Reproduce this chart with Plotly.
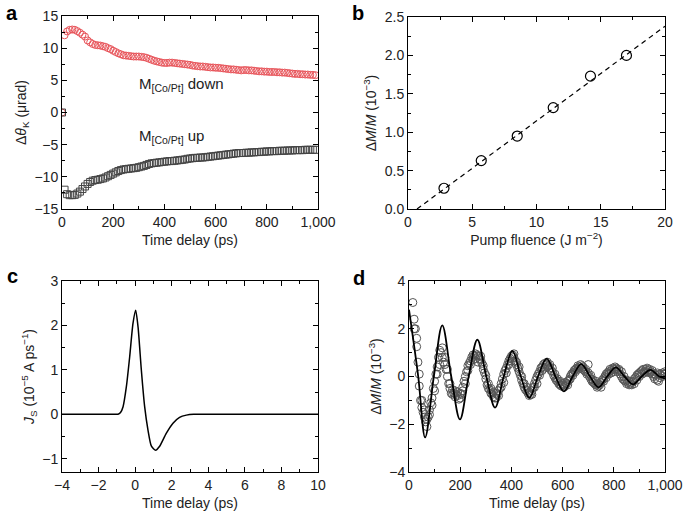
import plotly.graph_objects as go

# ---------------- Panel a data ----------------
a_time = [0] + [10 * i for i in range(1, 100)]
a_down = [0.0,
    12.0, 12.6, 12.85, 12.9, 12.85, 12.65, 12.4, 12.1, 11.8, 11.2,
    10.9, 10.65, 10.5, 10.45, 10.4, 10.3, 10.2, 10.0, 9.85, 9.6,
    9.4, 9.2, 9.05, 8.9, 8.85, 8.8, 8.75, 8.7, 8.7, 8.7,
    8.65, 8.6, 8.5, 8.35, 8.2, 8.05, 7.95, 7.85, 7.75, 7.7,
    7.7, 7.75, 7.75, 7.7, 7.65, 7.6, 7.55, 7.5, 7.45, 7.4,
    7.3, 7.25, 7.2, 7.15, 7.15, 7.1, 7.05, 7.0, 7.0, 6.95,
    6.95, 6.9, 6.85, 6.8, 6.75, 6.7, 6.7, 6.65, 6.6, 6.55,
    6.6, 6.6, 6.55, 6.55, 6.5, 6.45, 6.4, 6.4, 6.35, 6.35,
    6.3, 6.3, 6.3, 6.25, 6.25, 6.2, 6.2, 6.15, 6.1, 6.05,
    6.0, 6.0, 5.95, 5.95, 5.9, 5.9, 5.85, 5.85, 5.8]
a_up = [0.0,
    -12.0, -12.7, -12.85, -12.85, -12.8, -12.6, -12.3, -11.9, -11.5, -11.1,
    -10.8, -10.6, -10.5, -10.45, -10.35, -10.25, -10.1, -9.9, -9.7, -9.5,
    -9.3, -9.1, -8.95, -8.85, -8.8, -8.75, -8.7, -8.65, -8.6, -8.5,
    -8.4, -8.3, -8.15, -8.0, -7.9, -7.85, -7.8, -7.75, -7.7, -7.65,
    -7.6, -7.55, -7.55, -7.5, -7.45, -7.4, -7.35, -7.3, -7.2, -7.15,
    -7.1, -7.05, -7.05, -7.0, -7.0, -6.95, -6.9, -6.85, -6.8, -6.75,
    -6.7, -6.65, -6.6, -6.55, -6.5, -6.45, -6.4, -6.35, -6.3, -6.3,
    -6.3, -6.25, -6.25, -6.2, -6.2, -6.15, -6.15, -6.1, -6.1, -6.05,
    -6.05, -6.0, -6.0, -6.0, -5.95, -5.95, -5.95, -5.9, -5.9, -5.9,
    -5.85, -5.85, -5.85, -5.85, -5.8, -5.8, -5.8, -5.8, -5.8]

# ---------------- Panel b data ----------------
b_fluence = [2.8, 5.7, 8.5, 11.3, 14.2, 17.0]
b_dm = [0.27, 0.63, 0.95, 1.32, 1.73, 2.0]
b_fit_x = [0.7, 20.0]
b_fit_y = [0.0, 2.38]

# ---------------- Panel c data ----------------
c_time = [-4, -1.2, -0.94, -0.8, -0.66, -0.48, -0.3, -0.12, 0.03, 0.16, 0.34,
          0.52, 0.7, 0.89, 1.12, 1.34, 1.7, 2.07, 2.43, 2.8, 3.2, 4, 10]
c_js = [0, 0, 0, 0.04, 0.17, 0.62, 1.29, 2.04, 2.34, 1.96, 0.99,
        0.17, -0.35, -0.72, -0.81, -0.72, -0.43, -0.2, -0.07, -0.02, 0, 0, 0]

# ---------------- Panel d data ----------------
d_scan1 = [3.1, 2.4, 2.0, 1.25, 0.6, -0.4, -1.0, -1.3, -1.5, -1.7,
    -1.9, -2.1, -1.7, -1.4, -1.1, -0.9, -0.5, -0.2, 0.1, 0.4,
    0.8, 1.1, 1.0, 0.8, 0.6, 0.5, 0.3, 0.0, -0.3, -0.5,
    -0.7, -0.75, -0.7, -0.6, -0.75, -0.8, -0.95, -0.9, -0.75, -0.45,
    -0.2, 0.0, 0.2, 0.45, 0.55, 0.65, 0.8, 0.9, 0.85, 0.95,
    0.9, 0.85, 0.75, 0.7, 0.55, 0.45, 0.15, -0.1, -0.35, -0.5,
    -0.55, -0.7, -0.75, -0.85, -0.9, -0.9, -0.75, -0.6, -0.5, -0.3,
    -0.1, 0.1, 0.25, 0.35, 0.5, 0.65, 0.75, 0.85, 0.9, 0.8,
    0.65, 0.5, 0.35, 0.2, 0.05, -0.15, -0.3, -0.45, -0.55, -0.6,
    -0.7, -0.8, -0.75, -0.6, -0.45, -0.3, -0.15, 0.0, 0.1, 0.2,
    0.35, 0.4, 0.5, 0.55, 0.5, 0.6, 0.45, 0.35, 0.25, 0.2,
    0.05, -0.05, -0.15, -0.2, -0.3, -0.35, -0.4, -0.35, -0.45, -0.4,
    -0.3, -0.2, -0.15, 0.0, 0.1, 0.15, 0.25, 0.3, 0.35, 0.45,
    0.4, 0.35, 0.45, 0.3, 0.25, 0.2, 0.1, 0.5, 0.0, -0.1,
    -0.2, -0.25, -0.3, -0.35, -0.45, -0.3, -0.35, -0.25, -0.15, -0.1,
    0.0, 0.1, 0.15, 0.2, 0.3, 0.25, 0.35, 0.3, 0.4, 0.3,
    0.2, 0.25, 0.1, 0.0, -0.1, -0.15, -0.2, -0.3, -0.25, -0.35,
    -0.3, -0.25, -0.2, -0.1, -0.05, 0.05, 0.1, 0.15, 0.2, 0.25,
    0.3, 0.2, 0.3, 0.35, 0.25, 0.15, 0.2, 0.1, 0.0, -0.1,
    0.05, -0.15, -0.2, 0.1, 0.05, 0.15, 0.1, 0.1]
d_time1 = [15 + 5 * i for i in range(len(d_scan1))]
d_scan2 = [2.0, 1.6, 0.1, -1.0, -1.4, -1.8, -1.6, -1.2, -0.6, 0.1,
    0.5, 1.2, 0.8, 0.3, -0.3, -0.55, -0.85, -0.65, -0.7, -0.6,
    -0.3, 0.25, 0.5, 0.7, 0.75, 0.6, 0.85, 0.3, 0.05, -0.3,
    -0.5, -0.65, -0.7, -0.8, -0.45, -0.25, 0.15, 0.5, 0.65, 0.95,
    0.6, 0.4, 0.0, -0.3, -0.45, -0.65, -0.75, -0.45, -0.3, 0.05,
    0.25, 0.35, 0.4, 0.5, 0.35, 0.1, -0.1, -0.2, -0.3, -0.25,
    -0.35, -0.1, 0.05, 0.2, 0.3, 0.5, 0.4, 0.3, 0.15, 0.05,
    -0.15, -0.2, -0.4, -0.45, -0.2, -0.05, 0.1, 0.15, 0.2, 0.35,
    0.3, 0.2, 0.0, -0.15, -0.2, -0.35, -0.3, -0.15, 0.0, 0.1,
    0.15, 0.2, 0.3, 0.25, 0.1, 0.15, -0.05, 0.0, 0.2]
d_time2 = [20 + 10 * i for i in range(len(d_scan2))]
d_fit_t = [0, 36, 63, 97, 130, 165, 199, 233, 267, 302, 336, 370, 404, 437, 470,
           504, 538, 572, 605, 639, 673, 707, 740, 774, 808, 842, 875, 909, 943, 977, 1000]
d_fit_y = [2.8, 0, -2.55, 0, 2.14, 0, -1.8, 0, 1.54, 0, -1.3, 0, 1.07, 0, -0.9,
           0, 0.75, 0, -0.62, 0, 0.52, 0, -0.45, 0, 0.38, 0, -0.33, 0, 0.28, 0, -0.08]

FONT = "Liberation Sans, Arial, sans-serif"
W, H = 685, 517

fig = go.Figure()

fig.add_trace(go.Scatter(x=a_time, y=a_down, mode="markers", xaxis="x", yaxis="y",
    marker=dict(symbol="circle-open", size=7, color="#e8545a", line=dict(width=1)), showlegend=False))
fig.add_trace(go.Scatter(x=a_time, y=a_up, mode="markers", xaxis="x", yaxis="y",
    marker=dict(symbol="square-open", size=7, color="#444444", line=dict(width=1)), showlegend=False))

fig.add_trace(go.Scatter(x=b_fit_x, y=b_fit_y, mode="lines", xaxis="x2", yaxis="y2",
    line=dict(color="black", width=1.2, dash="5px,4px"), showlegend=False))
fig.add_trace(go.Scatter(x=b_fluence, y=b_dm, mode="markers", xaxis="x2", yaxis="y2",
    marker=dict(symbol="circle-open", size=10, color="black", line=dict(width=1.2)), showlegend=False))

fig.add_trace(go.Scatter(x=c_time, y=c_js, mode="lines", xaxis="x3", yaxis="y3",
    line=dict(color="black", width=1.5, shape="spline", smoothing=0.6), showlegend=False))

fig.add_trace(go.Scatter(x=d_time1, y=d_scan1, mode="markers", xaxis="x4", yaxis="y4",
    marker=dict(symbol="circle-open", size=8, color="#555555", line=dict(width=1)), showlegend=False))
fig.add_trace(go.Scatter(x=d_time2, y=d_scan2, mode="markers", xaxis="x4", yaxis="y4",
    marker=dict(symbol="circle-open", size=8, color="#555555", line=dict(width=1)), showlegend=False))
fig.add_trace(go.Scatter(x=d_fit_t, y=d_fit_y, mode="lines", xaxis="x4", yaxis="y4",
    line=dict(color="black", width=1.8, shape="spline", smoothing=1.0), showlegend=False))

def px_x(a, b):
    return [a / W, b / W]

def px_y(top, bottom):
    return [1 - bottom / H, 1 - top / H]

def ax(domain, rng, dtick, minor, anchor, title, fmt=None, standoff=None):
    d = dict(domain=domain, range=rng, dtick=dtick, tick0=0, anchor=anchor, automargin=False,
             showline=True, linecolor="black", linewidth=1, mirror="ticks",
             ticks="inside", ticklen=5, tickwidth=1, tickcolor="black",
             minor=dict(dtick=minor, ticks="inside", ticklen=3, tickcolor="black", tickwidth=1),
             showgrid=False, zeroline=False,
             tickfont=dict(family=FONT, size=14, color="#222"),
             title=dict(text=title, font=dict(family=FONT, size=14, color="#222")))
    if standoff is not None:
        d["title"]["standoff"] = standoff
    if fmt:
        d["tickformat"] = fmt
    return d

def letter(txt, x, y):
    return dict(text="<b>%s</b>" % txt, x=x / W, y=1 - y / H, xref="paper", yref="paper",
                xanchor="left", yanchor="middle", showarrow=False,
                font=dict(family=FONT, size=20, color="black"))

fig.update_layout(
    width=W, height=H, margin=dict(l=0, r=0, t=0, b=0, autoexpand=False),
    paper_bgcolor="white", plot_bgcolor="white",
    xaxis=ax(px_x(62, 318), [0, 1000], 200, 100, "y", "Time delay (ps)", ",", 6),
    yaxis=ax(px_y(16, 209), [-15, 15], 5, 2.5, "x", "Δ<i>θ</i><sub>K</sub> (μrad)", None, 4),
    xaxis2=ax(px_x(408, 665), [0, 20], 5, 2.5, "y2", "Pump fluence (J m<sup>−2</sup>)", None, 6),
    yaxis2=ax(px_y(17, 209), [0, 2.5], 0.5, 0.25, "x2", "Δ<i>M</i>/<i>M</i> (10<sup>−3</sup>)", ".1f", 4),
    xaxis3=ax(px_x(62, 318), [-4, 10], 2, 1, "y3", "Time delay (ps)", None, 6),
    yaxis3=ax(px_y(281, 472), [-1.3, 3], 1, 0.5, "x3", "<i>J</i><sub>S</sub> (10<sup>−5</sup> A ps<sup>−1</sup>)", None, 4),
    xaxis4=ax(px_x(409, 665), [0, 1000], 200, 100, "y4", "Time delay (ps)", ",", 6),
    yaxis4=ax(px_y(281, 472), [-4, 4], 2, 1, "x4", "Δ<i>M</i>/<i>M</i> (10<sup>−3</sup>)", None, 4),
    annotations=[
        letter("a", 4, 13),
        letter("b", 350, 13),
        letter("c", 5, 276),
        letter("d", 351, 278),
        dict(text="M<sub>[Co/Pt]</sub> down", x=293, y=4.3, xref="x", yref="y", xanchor="left", yanchor="middle",
             showarrow=False, font=dict(family=FONT, size=15, color="#222")),
        dict(text="M<sub>[Co/Pt]</sub> up", x=293, y=-3.8, xref="x", yref="y", xanchor="left", yanchor="middle",
             showarrow=False, font=dict(family=FONT, size=15, color="#222")),
    ],
)

fig.write_html("out.html", config={"displayModeBar": False},
               post_script="document.body.style.margin='0px';")
